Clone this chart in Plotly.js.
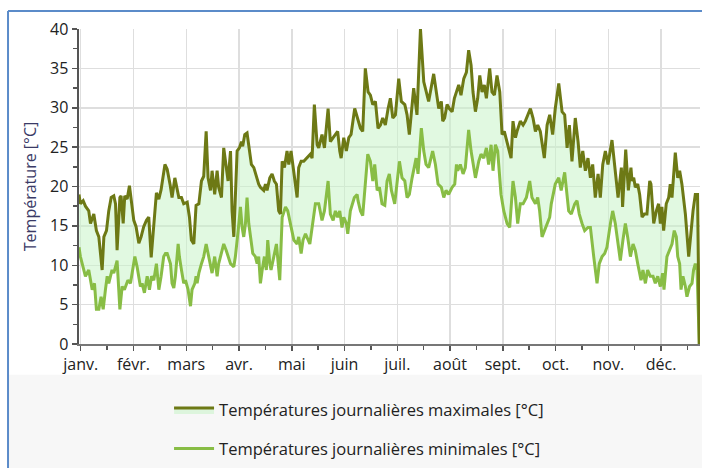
<!DOCTYPE html>
<html>
<head>
<meta charset="utf-8">
<script src="https://cdn.plot.ly/plotly-3.0.1.min.js"></script>
<style>html,body{margin:0;padding:0;background:#fff;}#chart{width:702px;height:468px;}</style>
</head>
<body>
<div id="chart"></div>
<script>
// Month tick labels
const months = ["janv.","févr.","mars","avr.","mai","juin","juil.","août","sept.","oct.","nov.","déc."];

// Daily maximum temperatures (day of year, °C)
const maxDays = [0,0.8,2.4,3.7,5.6,6.6,8.5,10,11.4,13.3,14.3,15.8,17.1,18.5,20,21,21.9,23.5,24.2,25.4,26.3,27.7,29,30.2,31.5,32.8,34.4,35.7,37.2,38.8,40.1,41.5,43,44.5,45.9,47.2,49.4,50.7,52.4,53.5,55.1,56.4,57.4,58.9,60.2,62.2,63.5,64.6,66,67.3,68.9,70.4,71.7,73.1,74.2,75.6,76.5,78,79.4,80.3,81.9,83.2,84.6,85.7,87.1,88,89,89.9,90.9,92.2,93.4,94.1,95.3,96.6,97.6,99.1,100.5,101.8,103.3,104.3,106.2,107.2,108.1,109.7,111,112.3,113.5,114.8,115.8,116.8,118.1,119.6,120.6,121.9,123.5,125.4,126.3,127.7,129.2,131.1,133,134,135.3,136.9,137.8,139.7,141.1,143.2,144.5,146.1,147.4,148.7,149.9,150.7,152.2,153.7,155.1,156.4,158.5,160.4,161.8,163.1,164.6,166.2,167.5,168.9,170.4,171.9,173.3,174.6,176.1,177.7,179,180.4,181.9,183.8,185.3,187.3,188.6,189.9,191.1,192.4,194.3,196.3,198.2,199.5,201,203.9,205.3,206.8,208.3,209.1,210.2,211.6,212.9,214.5,215.8,217,218.3,219.6,221.2,222.7,224,225.4,226.5,227.9,229.2,230.4,231.7,233,234.2,236.1,237.4,238.8,240.3,241.9,243.2,244.5,246.1,247.6,248.4,249.5,250.9,251.8,253.7,255.3,256.6,259.5,261,262.4,263.7,265.2,267.5,269.1,270.6,272.3,273.8,275.8,277.7,279.2,280.6,281.9,283.4,285.3,286.9,288.2,289.6,291.1,292.6,294,295.3,296.8,298.4,299.7,301.1,302.6,304.1,306.4,308.3,309.9,311.8,312.5,314.3,315.8,317.3,317.9,318.9,319.8,321.2,322.3,323.7,325,326.5,328.1,328.8,330.4,331.9,333.2,334.2,335.1,336.1,337.6,339,339.9,340.9,342.8,344.2,345.3,346.6,347.6,348.6,350.5,351.4,353,354.3,355.6,356.6];
const maxTemps = [19.0,17.8,18.2,17.5,16.9,15.3,16.5,14.4,13.6,9.4,13.6,14.4,16.9,18.6,18.8,17.8,11.9,18.6,18.8,15.3,18.8,18.4,20.1,18.2,15.7,14.9,12.8,13.6,14.9,15.7,16.1,11.0,15.7,19.2,18.4,19.6,22.8,22.2,20.2,18.6,21.1,19.5,18.6,18.6,17.8,18.0,16.1,13.2,12.7,17.6,17.8,20.7,21.3,27.0,21.1,19.5,22.0,19.0,22.0,19.9,18.6,24.9,22.8,20.7,24.5,16.9,13.6,18.6,24.5,24.9,25.7,25.1,26.6,26.8,25.3,22.8,22.4,21.3,20.3,19.9,19.5,20.3,19.5,21.1,21.6,20.7,20.3,16.9,16.5,23.2,22.4,24.5,22.8,24.5,22.0,18.6,22.4,23.2,23.2,23.6,24.1,23.6,30.4,25.3,24.9,26.6,24.9,29.9,25.7,26.2,26.6,27.0,24.5,23.6,26.2,24.5,26.2,26.6,29.9,28.3,27.4,27.0,35.0,32.0,31.6,30.4,30.8,27.4,27.8,28.7,27.8,29.9,31.2,28.7,29.1,33.7,30.8,30.4,29.1,26.6,29.1,32.5,29.1,40.0,33.3,32.0,30.8,34.3,32.0,29.9,30.8,28.3,28.7,30.4,29.9,29.5,31.2,32.0,32.9,31.6,33.7,34.5,37.3,35.4,32.0,29.5,31.2,34.1,32.0,32.9,31.2,35.0,32.0,31.6,34.1,32.0,26.6,27.0,25.7,24.5,23.6,28.3,26.2,27.0,28.3,27.8,28.3,29.9,28.7,27.0,27.8,27.0,23.6,27.8,29.1,26.6,29.9,33.1,29.5,29.1,24.9,27.8,23.2,28.7,25.7,22.4,24.5,22.0,23.6,21.1,22.8,18.6,21.6,18.6,22.8,24.5,22.8,25.9,21.6,18.6,22.4,17.4,24.7,19.5,22.4,20.7,21.1,19.9,20.3,19.0,16.1,16.5,16.5,20.7,20.3,15.3,16.9,17.8,15.3,17.4,14.4,17.8,18.6,20.3,18.6,24.3,21.1,22.0,20.3,18.2,16.5,11.1,13.6,16.9,19.0,19.0,0];

// Daily minimum temperatures (day of year, °C)
const minDays = [0,0.8,3.7,5.6,7.6,8.9,10,11.4,12.7,13.9,15.2,16.2,17.1,19,20,21.9,23.5,24.8,26.1,28.1,29.6,30.9,32.1,33.4,35.3,36.3,37.6,39.2,40.5,41.7,43,44.5,45.9,47.2,48.7,49.7,50.7,52.6,53.5,54.5,55.4,57,57.7,58.9,60.2,61.2,62.7,64.1,65,66.6,67.3,67.9,68.9,70.4,71.7,73.1,74.2,75.6,76.5,78,79.4,80.3,81.9,83.2,84.6,85.7,87.1,89,89.9,91.5,92.8,93.8,94.7,95.7,96.6,97.6,99.1,99.9,101.4,102.4,103.3,104.3,105.3,106.6,107.7,108.5,109.7,110.4,112,113.5,115.4,116.8,118.7,120,123.5,125.4,126.3,127.7,128.8,130.2,132.7,134.6,135.9,137.8,139.7,141.1,143.2,144.5,146.1,147.4,148.7,149.9,151.2,152.2,153.7,154.5,156,158.3,159.9,160.4,161.8,163.1,164.6,166,167.5,168.9,170,171.4,172.7,174.2,175.8,177.1,178.4,179.6,181.5,182.8,184.2,185.7,187.3,188.6,189.9,191.5,193.8,194.9,196.8,198.2,199.5,201,203.3,204.9,206.4,208.3,209.7,211,212.5,214.5,216,217,217.7,219.2,220.8,222.1,224,225.4,226.5,227.9,229.8,231.1,232.7,234.2,235.5,236.9,238,239.4,240.7,242.6,244.2,246.1,247.6,249.5,250.9,252.2,253.7,255.3,257.2,259.1,260.4,262.4,263.7,264.8,266.2,267.5,269.1,270.6,271.5,273.8,275.8,277.2,279.2,280.6,281.5,283,285,286.3,287.6,289.2,290.7,292.6,294,295.9,297.8,299.1,300.7,302.2,303.5,305.5,306.8,308.3,309.9,311.2,312.7,314.1,315.4,317,318.5,319.8,321.2,323.1,324.2,325.6,326.9,328.4,330,331.3,332.7,334.2,335.5,336.3,338,339.6,340.9,342.2,343.4,344.2,345.3,346.1,347.2,348.6,349.5,351,352.4,353.3,354.3,355.3,356.6];
const minTemps = [12.3,11.1,8.6,9.4,6.9,7.7,4.4,4.4,6.0,4.4,6.9,8.6,7.7,9.4,9.0,10.6,4.4,7.3,6.9,8.1,7.7,9.4,11.1,9.8,7.3,7.7,6.5,8.6,6.9,8.6,8.1,10.2,6.9,8.6,11.1,11.5,11.5,10.2,7.7,7.1,8.6,12.7,11.1,9.4,7.7,8.1,6.9,4.8,6.9,7.7,8.6,7.7,9.0,10.2,11.1,12.7,11.5,10.2,9.0,11.1,8.6,10.2,11.5,12.7,11.9,11.1,10.2,9.8,11.1,14.4,17.4,14.8,13.6,15.3,18.6,15.3,12.7,11.5,11.1,10.2,11.1,7.7,9.4,11.1,9.4,13.2,10.2,9.4,11.1,12.7,8.1,16.1,17.4,16.9,13.2,12.7,13.6,11.5,13.2,14.0,12.7,15.7,17.8,17.8,15.7,16.9,20.7,16.5,15.7,16.9,16.1,16.9,14.8,16.1,15.3,14.0,16.9,18.6,19.0,18.2,16.9,16.3,19.9,24.1,23.2,20.7,22.8,19.5,19.9,17.8,17.6,20.7,21.6,19.5,17.8,20.7,23.2,21.1,20.7,18.6,19.0,21.1,23.6,21.6,27.4,24.5,22.8,22.4,24.5,22.8,20.3,19.9,18.6,19.5,19.0,19.9,20.3,22.8,22.0,22.8,21.6,22.4,27.2,24.5,23.2,21.1,23.2,24.1,23.6,24.9,22.8,25.3,22.0,25.3,24.5,19.0,16.9,15.3,14.8,20.7,18.6,15.3,17.8,17.8,18.6,20.7,18.6,17.8,18.6,16.9,13.6,14.4,15.3,16.1,17.8,20.3,21.1,19.5,21.8,19.0,16.9,16.5,17.8,18.2,16.5,15.3,14.4,14.8,14.8,11.1,7.7,10.2,11.1,11.5,12.3,15.3,16.9,15.3,12.7,10.6,13.2,15.3,13.6,11.1,12.7,11.9,10.2,8.1,9.4,7.7,9.4,8.6,8.6,7.7,8.6,7.3,9.0,6.9,11.1,11.9,12.7,14.4,13.6,11.1,10.2,6.9,8.6,7.3,6.0,7.3,7.7,9.4,10.2,9.4,0];

const maxName = "Températures journalières maximales [°C]";
const minName = "Températures journalières minimales [°C]";

const font = "'Open Sans', 'Noto Sans', sans-serif";

const traces = [
  {
    x: minDays, y: minTemps, type: "scatter", mode: "lines", name: minName,
    line: {color: "#88bd45", width: 3},
    legendgroup: "b", legendrank: 2, hoverinfo: "skip"
  },
  {
    x: maxDays, y: maxTemps, type: "scatter", mode: "lines", name: maxName,
    line: {color: "#6d7915", width: 3},
    fill: "tonexty", fillcolor: "rgba(200,244,200,0.55)",
    legendgroup: "a", legendrank: 1, hoverinfo: "skip"
  }
];

const monthStep = 30.33;
const layout = {
  width: 702, height: 468,
  margin: {l: 79, r: 2, t: 29, b: 122},
  paper_bgcolor: "#ffffff", plot_bgcolor: "#ffffff",
  font: {family: font, color: "#222", size: 16},
  showlegend: true,
  legend: {
    x: 0.145, xanchor: "left", y: -0.155, yanchor: "top",
    orientation: "v", traceorder: "grouped", tracegroupgap: 14,
    font: {family: font, size: 16.5, color: "#222"},
    bgcolor: "rgba(0,0,0,0)", itemwidth: 40
  },
  xaxis: {
    range: [0, 357], fixedrange: true,
    tickmode: "array",
    tickvals: months.map((m, i) => 1 + i * monthStep),
    ticktext: months,
    ticks: "outside", ticklen: 5, tickwidth: 1.5, tickcolor: "#555",
    showgrid: true, gridcolor: "#dedede", gridwidth: 1.5,
    showline: true, linecolor: "#777", linewidth: 2,
    zeroline: false,
    tickfont: {family: font, size: 16, color: "#222"},
    minor: {
      tickmode: "array",
      tickvals: months.map((m, i) => 1 + (i + 0.5) * monthStep),
      ticks: "outside", ticklen: 4, tickwidth: 1.5, tickcolor: "#555", showgrid: false
    }
  },
  yaxis: {
    range: [0, 40], fixedrange: true,
    tickmode: "linear", tick0: 0, dtick: 5,
    ticks: "outside", ticklen: 5, tickwidth: 1.5, tickcolor: "#555",
    showgrid: true, gridcolor: "#dedede", gridwidth: 1.5,
    showline: true, linecolor: "#555", linewidth: 2.5,
    zeroline: false,
    tickfont: {family: font, size: 16, color: "#222"},
    minor: {dtick: 2.5, tick0: 0, ticks: "outside", ticklen: 4, tickwidth: 1.5, tickcolor: "#555", showgrid: false},
    title: {text: "Température [°C]", font: {family: font, size: 16, color: "#3a3a66"}, standoff: 10}
  },
  shapes: [
    {type: "rect", xref: "paper", yref: "paper", x0: -0.1143, x1: 1.01, y0: -0.098, y1: -0.4,
     fillcolor: "#f7f7f7", line: {width: 0}, layer: "below"},
    {type: "line", xref: "paper", yref: "paper", x0: -0.1143, x1: -0.1143, y0: 1.057, y1: -0.4,
     line: {color: "#5b8bc9", width: 2}},
    {type: "line", xref: "paper", yref: "paper", x0: -0.1143, x1: 1.01, y0: 1.057, y1: 1.057,
     line: {color: "#5b8bc9", width: 2}}
  ]
};

Plotly.newPlot("chart", traces, layout, {displayModeBar: false, staticPlot: true});
</script>
</body>
</html>
